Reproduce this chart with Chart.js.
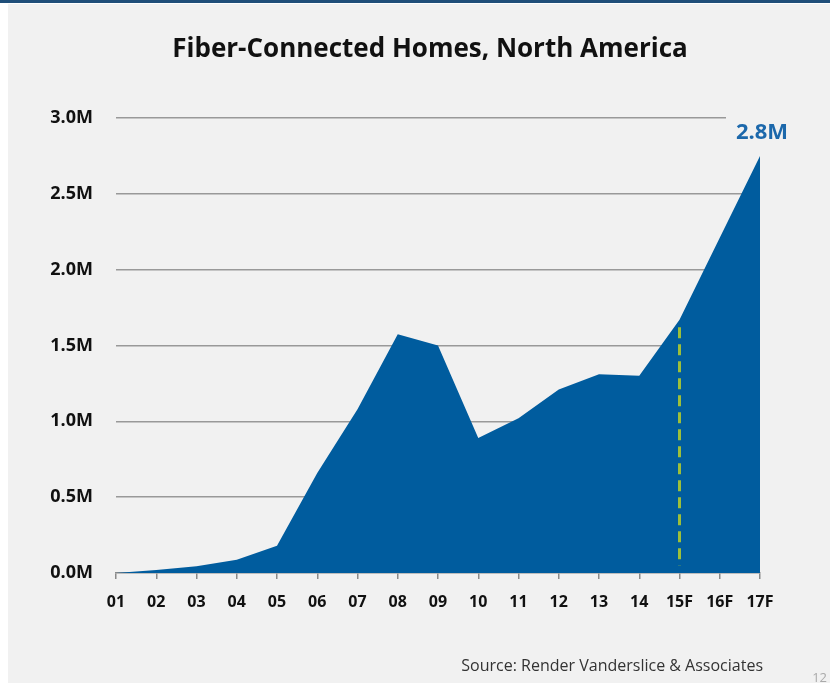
<!DOCTYPE html>
<html>
<head>
<meta charset="utf-8">
<script src="https://cdn.jsdelivr.net/npm/chart.js@4.4.1/dist/chart.umd.min.js"></script>
<style>
  html, body { margin: 0; padding: 0; background: #ffffff; }
  #wrap { width: 830px; height: 683px; position: relative; }
</style>
</head>
<body>
<div id="wrap"><canvas id="c" width="830" height="683"></canvas></div>
<script>
// ---- data ----
const categories = ["01","02","03","04","05","06","07","08","09","10","11","12","13","14","15F","16F","17F"];
const homesMillions = [0.0, 0.02, 0.045, 0.088, 0.18, 0.66, 1.08, 1.575, 1.50, 0.89, 1.02, 1.21, 1.31, 1.30, 1.67, 2.21, 2.75];
const yTicks = [0, 0.5, 1.0, 1.5, 2.0, 2.5, 3.0];
const forecastStartIndex = 14;          // "15F"
const forecastLineRange = [0.05, 1.62]; // dashed marker extent (millions)
const titleText = "Fiber-Connected Homes, North America";
const endLabelText = "2.8M";
const sourceText = "Source: Render Vanderslice & Associates";
const pageNumber = "12";

const FONT = "'Open Sans', 'DejaVu Sans', sans-serif";
const AREA = "rgb(0,92,158)";
const BG = "#f1f1f1";

const decor = {
  id: 'decor',
  beforeDraw(chart) {
    const ctx = chart.ctx;
    ctx.save();
    ctx.fillStyle = "#ffffff";
    ctx.fillRect(0, 0, 830, 683);
    ctx.fillStyle = BG;
    ctx.fillRect(8, 4, 822, 679);
    ctx.fillStyle = "#1f4e79";
    ctx.fillRect(0, 0, 830, 3);
    ctx.restore();
  },
  afterDatasetsDraw(chart) {
    const ctx = chart.ctx;
    const x = chart.scales.x.getPixelForValue(forecastStartIndex);
    const y1 = chart.scales.y.getPixelForValue(forecastLineRange[1]);
    const y2 = chart.scales.y.getPixelForValue(forecastLineRange[0]);
    ctx.save();
    ctx.strokeStyle = "#9dbf3a";
    ctx.lineWidth = 3;
    ctx.setLineDash([11, 6]);
    ctx.beginPath();
    ctx.moveTo(x, y1);
    ctx.lineTo(x, y2);
    ctx.stroke();
    ctx.restore();
  },
  afterDraw(chart) {
    const ctx = chart.ctx;
    const last = homesMillions.length - 1;
    const px = chart.scales.x.getPixelForValue(last);
    const py = chart.scales.y.getPixelForValue(homesMillions[last]);
    ctx.save();
    // label box covering gridline
    ctx.fillStyle = BG;
    ctx.fillRect(px - 34, py - 46, 76, 36);
    ctx.fillStyle = "#1c68ab";
    ctx.font = "bold 22px " + FONT;
    ctx.textAlign = "center";
    ctx.textBaseline = "alphabetic";
    ctx.fillText(endLabelText, px + 2, py - 17);
    // title
    ctx.fillStyle = "#111111";
    ctx.font = "bold 26px " + FONT;
    ctx.fillText(titleText, 430, 57);
    // source
    ctx.fillStyle = "#333333";
    ctx.font = "16px " + FONT;
    ctx.textAlign = "right";
    ctx.fillText(sourceText, 763, 671);
    // page number
    ctx.fillStyle = "#aaaaaa";
    ctx.font = "13px " + FONT;
    ctx.fillText(pageNumber, 827, 682);
    ctx.restore();
  }
};

new Chart(document.getElementById('c'), {
  type: 'line',
  data: {
    labels: categories,
    datasets: [{
      data: homesMillions,
      backgroundColor: AREA,
      borderColor: AREA,
      borderWidth: 0,
      fill: 'origin',
      pointRadius: 0,
      tension: 0
    }]
  },
  options: {
    responsive: false,
    animation: false,
    events: [],
    layout: { padding: { top: 118, right: 70, bottom: 64, left: 0 } },
    plugins: { legend: { display: false }, tooltip: { enabled: false }, title: { display: false } },
    scales: {
      x: {
        offset: false,
        grid: { drawOnChartArea: false, drawTicks: true, tickLength: 6, color: "#8a8a8a", lineWidth: 1.5 },
        border: { display: true, color: "#8a8a8a", width: 1.5 },
        ticks: { color: "#111111", font: { family: FONT, size: 16, weight: 'bold' }, padding: 14, maxRotation: 0, autoSkip: false },
        afterFit(s) { s.height = 46; }
      },
      y: {
        min: 0, max: 3,
        afterBuildTicks(s) { s.ticks = yTicks.map(v => ({ value: v })); },
        grid: { drawTicks: false, color: (c) => c.tick && c.tick.value === 0 ? 'rgba(0,0,0,0)' : "#999999", lineWidth: 1.5 },
        border: { display: false },
        ticks: { color: "#111111", font: { family: FONT, size: 18, weight: 'bold' }, padding: 23,
                 callback: (v) => Number(v).toFixed(1) + 'M' },
        afterFit(s) { s.width = 116; }
      }
    }
  },
  plugins: [decor]
});
</script>
</body>
</html>
